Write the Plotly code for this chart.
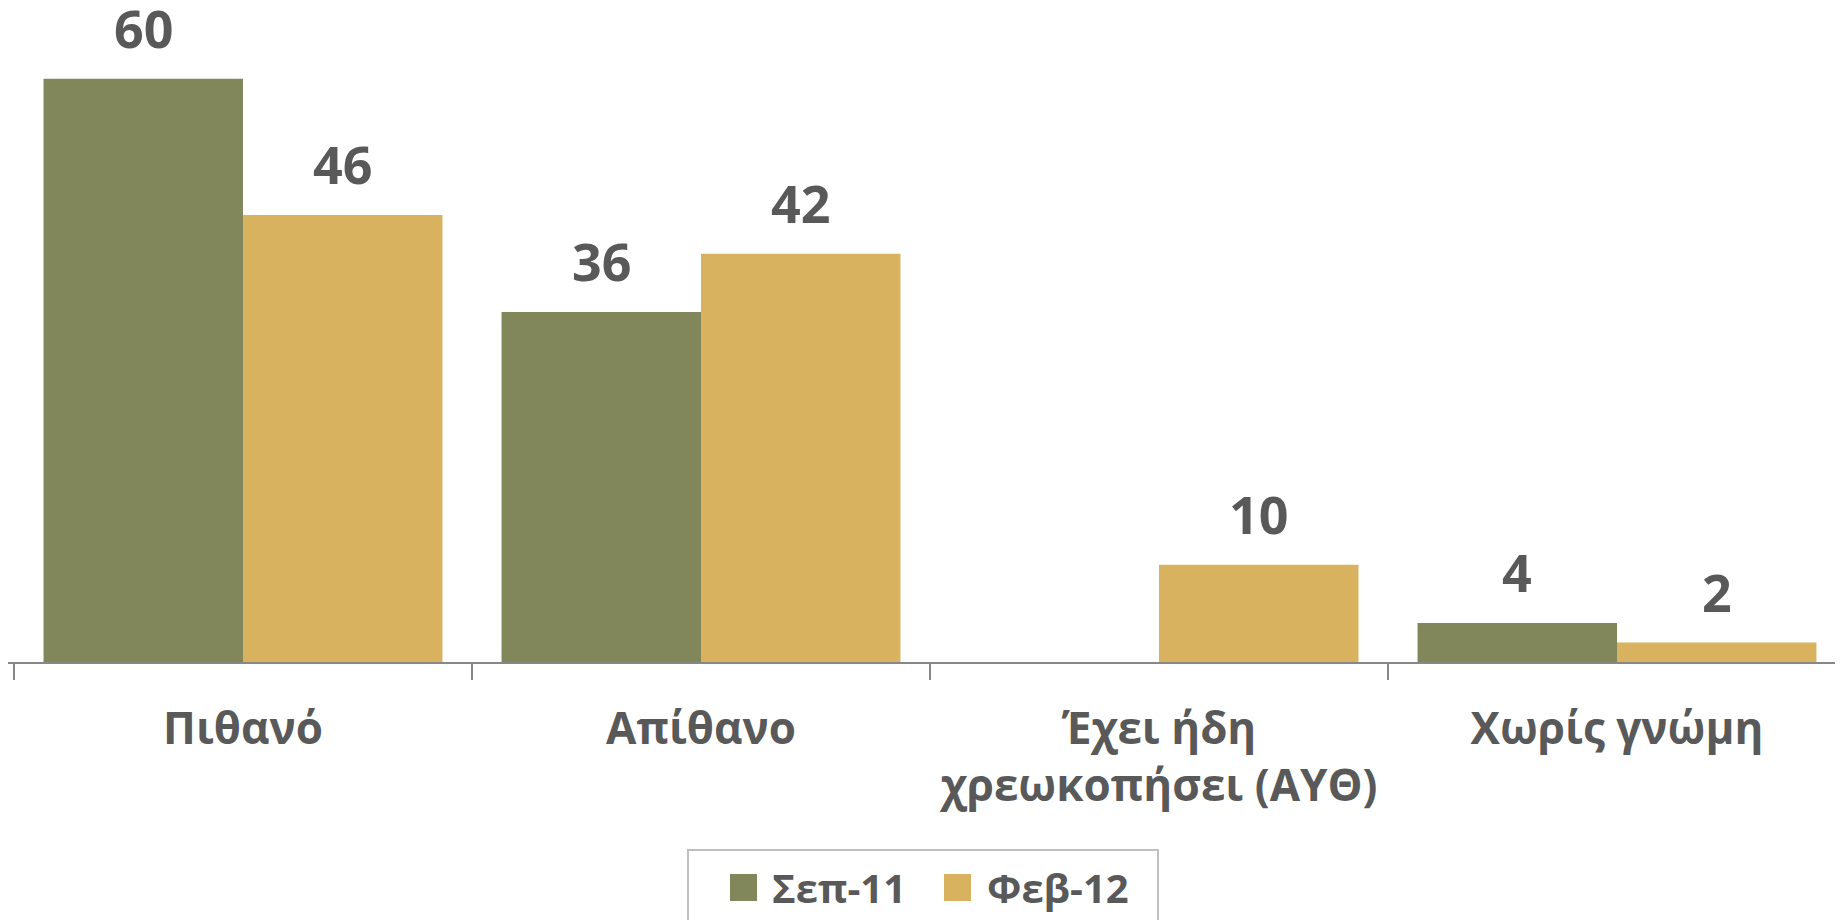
import plotly.graph_objects as go

categories = ["Πιθανό", "Απίθανο", "Έχει ήδη<br>χρεωκοπήσει (ΑΥΘ)", "Χωρίς γνώμη"]
series_names = ["Σεπ-11", "Φεβ-12"]
sep11 = [60, 36, None, 4]
feb12 = [46, 42, 10, 2]
colors = ["#82875B", "#D8B25E"]

# page has an 8px body margin; figure sized so it fits the window exactly
OFF = 8
W, H = 1843 - OFF, 920 - OFF
TEXT = "#595959"
FONT = "Open Sans"

AXIS_PAGE_Y = 662
plot_bottom = AXIS_PAGE_Y - OFF  # in figure pixels, plot top at 0


def px(p):  # page x pixel -> paper
    return (p - OFF) / W


def py(p):  # page y pixel -> paper
    return (plot_bottom - (p - OFF)) / plot_bottom


fig = go.Figure()
for name, vals, col in zip(series_names, [sep11, feb12], colors):
    fig.add_trace(go.Bar(x=categories, y=vals, name=name, marker_color=col,
                         marker_line_width=0, showlegend=False))

# data labels
offsets = [-0.2175, 0.2175]
for vals, off in zip([sep11, feb12], offsets):
    for i, v in enumerate(vals):
        if v is None:
            continue
        fig.add_annotation(x=i + off, y=v, xref="x", yref="y", text=f"<b>{v}</b>",
                           showarrow=False, yanchor="bottom", yshift=14,
                           font=dict(family=FONT, size=52, color=TEXT))

# legend drawn with shapes so the swatches match the reference size
fig.add_shape(type="rect", xref="paper", yref="paper",
              x0=px(688), x1=px(1158), y0=py(850), y1=py(960),
              line=dict(color="#BFBFBF", width=2), fillcolor="rgba(0,0,0,0)")
sq = [(730, 770), (944, 985)]
for (sx, tx), name, col in zip(sq, series_names, colors):
    fig.add_shape(type="rect", xref="paper", yref="paper",
                  x0=px(sx), x1=px(sx + 27), y0=py(874), y1=py(901),
                  line=dict(width=0), fillcolor=col)
    fig.add_annotation(x=px(tx), y=py(887), xref="paper", yref="paper",
                       text=f"<b>{name}</b>", showarrow=False,
                       xanchor="left", yanchor="middle",
                       font=dict(family=FONT, size=40, color=TEXT))

# x range: category boundaries at page x 14 + k*458
x_left = -0.5 + (OFF - 14) / 458
x_right = -0.5 + (1843 - 14) / 458
px_per_unit = 9.72

fig.update_layout(
    width=W, height=H,
    barmode="group", bargap=0.129, bargroupgap=0,
    margin=dict(l=0, r=0, t=0, b=H - plot_bottom, autoexpand=False),
    paper_bgcolor="white", plot_bgcolor="white",
    font=dict(family=FONT, color=TEXT),
)
fig.update_xaxes(
    type="category", range=[x_left, x_right],
    showline=True, linecolor="#878787", linewidth=2,
    ticks="outside", tickson="boundaries", ticklen=16, tickwidth=2, tickcolor="#878787",
    tickfont=dict(family=FONT, size=44, color=TEXT), ticklabelstandoff=27,
    tickvals=categories,
    ticktext=[f"<b>{c}</b>".replace("<br>", "</b><br><b>") for c in categories],
    showgrid=False, zeroline=False,
)
fig.update_yaxes(range=[0, plot_bottom / px_per_unit], visible=False,
                 showgrid=False, zeroline=False)

fig.write_html("out.html")
